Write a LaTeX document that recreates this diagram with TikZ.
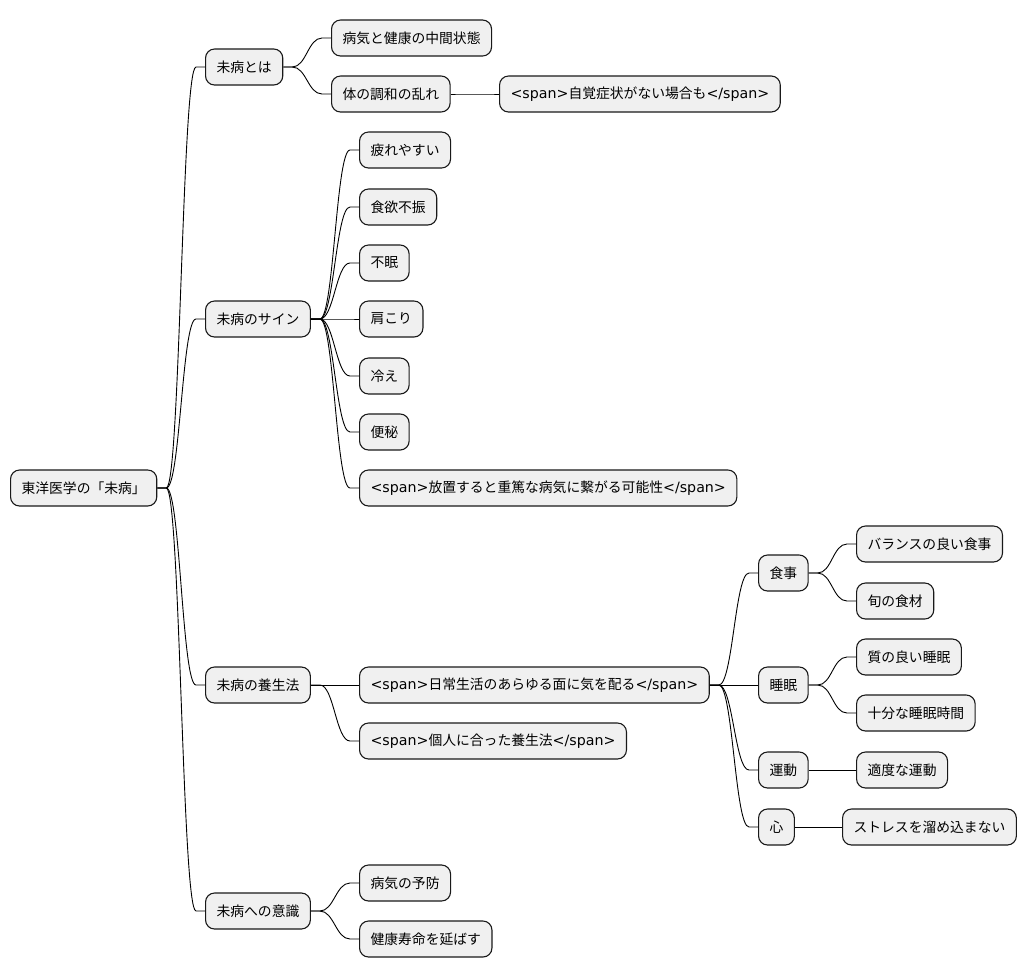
\documentclass[tikz,border=0pt]{standalone}
\usepackage{fontspec}
\setmainfont{Noto Sans CJK JP}
\newfontfamily\latinsans[Scale=1.03]{DejaVu Sans}

\tikzset{
  topic/.style={draw=black!90, fill=gray!12, rounded corners=9pt, line width=1.1pt,
    minimum height=36pt, inner xsep=11pt, anchor=west,
    font=\fontsize{13.8}{16}\selectfont},
  branch/.style={to path={-- ++(9,0) .. controls +(14,0) and +(-14,0)
    .. ([xshift=-9pt]\tikztotarget.west) -- (\tikztotarget.west)}}
}
\newcommand\spanopen{{\latinsans <span>}}
\newcommand\spanclose{{\latinsans </span>}}

\begin{document}
\begin{tikzpicture}[x=1pt,y=-1pt,line width=0.9pt]
\useasboundingbox (0,0) rectangle (1027,978);
\node [topic] (z) at (10,488) {東洋医学の「未病」};
\node [topic] (a) at (205,67) {未病とは};
\node [topic] (a1) at (331,38) {病気と健康の中間状態};
\node [topic] (a2) at (331,94) {体の調和の乱れ};
\node [topic] (a21) at (499,94) {\spanopen 自覚症状がない場合も\spanclose};
\node [topic] (b) at (205,319) {未病のサイン};
\node [topic] (b1) at (359,150) {疲れやすい};
\node [topic] (b2) at (359,207) {食欲不振};
\node [topic] (b3) at (359,263) {不眠};
\node [topic] (b4) at (359,319) {肩こり};
\node [topic] (b5) at (359,376) {冷え};
\node [topic] (b6) at (359,432) {便秘};
\node [topic] (b7) at (359,488) {\spanopen 放置すると重篤な病気に繋がる可能性\spanclose};
\node [topic] (c) at (205,685) {未病の養生法};
\node [topic] (c1) at (359,685) {\spanopen 日常生活のあらゆる面に気を配る\spanclose};
\node [topic] (c2) at (359,741) {\spanopen 個人に合った養生法\spanclose};
\node [topic] (d) at (758,573) {食事};
\node [topic] (d1) at (856,544) {バランスの良い食事};
\node [topic] (d2) at (856,601) {旬の食材};
\node [topic] (e) at (758,685) {睡眠};
\node [topic] (e1) at (856,657) {質の良い睡眠};
\node [topic] (e2) at (856,713) {十分な睡眠時間};
\node [topic] (f) at (758,770) {運動};
\node [topic] (f1) at (856,770) {適度な運動};
\node [topic] (g) at (758,827) {心};
\node [topic] (g1) at (842,827) {ストレスを溜め込まない};
\node [topic] (h) at (205,911) {未病への意識};
\node [topic] (h1) at (359,883) {病気の予防};
\node [topic] (h2) at (359,939) {健康寿命を延ばす};

\draw (z.east) to[branch] (a);
\draw (z.east) to[branch] (b);
\draw (z.east) to[branch] (c);
\draw (z.east) to[branch] (h);
\draw (a.east) to[branch] (a1);
\draw (a.east) to[branch] (a2);
\draw (a2.east) to[branch] (a21);
\draw (b.east) to[branch] (b1);
\draw (b.east) to[branch] (b2);
\draw (b.east) to[branch] (b3);
\draw (b.east) to[branch] (b4);
\draw (b.east) to[branch] (b5);
\draw (b.east) to[branch] (b6);
\draw (b.east) to[branch] (b7);
\draw (c.east) to[branch] (c1);
\draw (c.east) to[branch] (c2);
\draw (c1.east) to[branch] (d);
\draw (c1.east) to[branch] (e);
\draw (c1.east) to[branch] (f);
\draw (c1.east) to[branch] (g);
\draw (d.east) to[branch] (d1);
\draw (d.east) to[branch] (d2);
\draw (e.east) to[branch] (e1);
\draw (e.east) to[branch] (e2);
\draw (f.east) to[branch] (f1);
\draw (g.east) to[branch] (g1);
\draw (h.east) to[branch] (h1);
\draw (h.east) to[branch] (h2);
\end{tikzpicture}
\end{document}
